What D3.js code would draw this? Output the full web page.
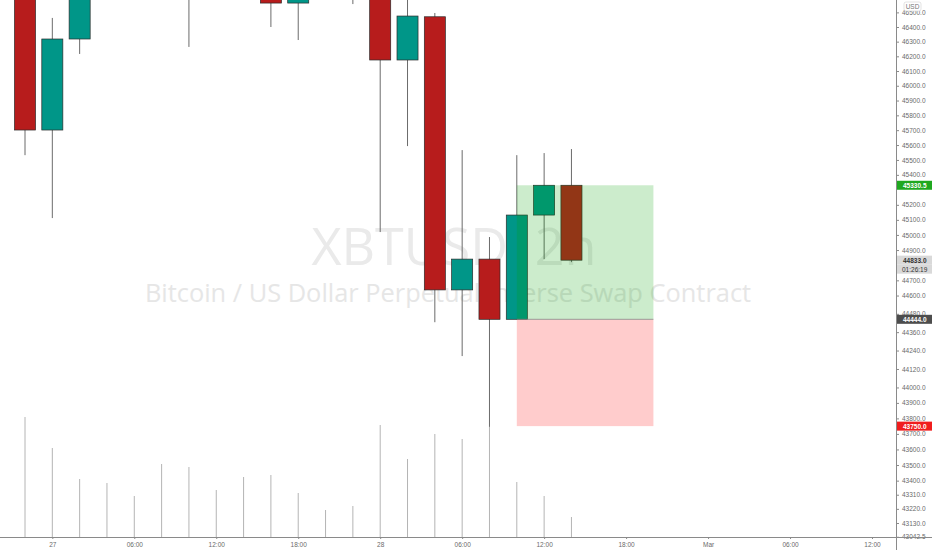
<!DOCTYPE html>
<html>
<head>
<meta charset="utf-8">
<script src="https://cdn.jsdelivr.net/npm/d3@7"></script>
<style>
  html, body { margin: 0; padding: 0; background: #fff; }
  svg { display: block; }
  .axis text { font-family: "Liberation Sans", Arial, sans-serif; font-size: 6.5px; fill: #6a6a6a; }
  .axis line { stroke: #8a8a8a; }
</style>
</head>
<body>
<div id="chart"></div>
<script>
// 2h candles, XBTUSD
var times = ["2021-02-26T22:00Z", "2021-02-27T00:00Z", "2021-02-27T02:00Z", "2021-02-27T04:00Z",
    "2021-02-27T06:00Z", "2021-02-27T08:00Z", "2021-02-27T10:00Z", "2021-02-27T12:00Z",
    "2021-02-27T14:00Z", "2021-02-27T16:00Z", "2021-02-27T18:00Z", "2021-02-27T20:00Z",
    "2021-02-27T22:00Z", "2021-02-28T00:00Z", "2021-02-28T02:00Z", "2021-02-28T04:00Z",
    "2021-02-28T06:00Z", "2021-02-28T08:00Z", "2021-02-28T10:00Z", "2021-02-28T12:00Z",
    "2021-02-28T14:00Z"];
var opens = [46900, 45701, 46318, 46850, 46980, 47250, 46900, 46850, 47150, 46980, 46564,
    46780, 46850, 46900, 46175, 46470, 44637, 44840, 44444, 45132, 45330.5];
var highs = [47100, 46462, 46950, 47200, 47350, 47500, 47100, 47300, 47400, 47050, 46900,
    47000, 47050, 47100, 46700, 46496, 45566, 44986, 45532, 45546, 45573];
var lows = [45532, 45112, 46216, 46650, 46700, 46680, 46264, 46620, 46640, 46400, 46311,
    46620, 46557, 45019, 45593, 44425, 44204, 43745, 44444, 44840, 44820];
var closes = [45701, 46318, 46850, 46980, 47250, 46900, 46850, 47150, 46980, 46564, 46780,
    46850, 46900, 46175, 46475, 44637, 44840, 44444, 45132, 45330.5, 44833];
var volumes = [120, 89, 58, 54, 41, 73, 70, 47, 60, 62, 44, 27, 31, 112, 78, 103, 98, 110, 55, 41, 20];

// long position tool
var posStart = "2021-02-28T10:00Z", posEnd = "2021-02-28T20:00Z";
var entryPrice = 44444, targetPrice = 45330.5, stopPrice = 43750;
var lastPrice = 44833, countdown = "01:26:19";

// labels left visible on the price scale (others sit under the tags)
var priceTicks = [46500, 46400, 46300, 46200, 46100, 46000, 45900, 45800, 45700, 45600, 45500,
    45400, 45200, 45100, 45000, 44900, 44700, 44600, 44480, 44360, 44240, 44120,
    44000, 43900, 43800, 43700, 43600, 43500, 43400, 43310, 43220, 43130, 43042.5];
var timeTicks = ["2021-02-27T00:00Z", "2021-02-27T06:00Z", "2021-02-27T12:00Z", "2021-02-27T18:00Z",
    "2021-02-28T00:00Z", "2021-02-28T06:00Z", "2021-02-28T12:00Z", "2021-02-28T18:00Z",
    "2021-03-01T00:00Z", "2021-03-01T06:00Z", "2021-03-01T12:00Z"];

(function () {
    var W = 932, H = 550,
        paneW = 896, paneH = 537;

    var svg = d3.select("#chart").append("svg")
        .attr("width", W).attr("height", H);

    var data = times.map(function (t, i) {
        return { t: new Date(t), o: opens[i], h: highs[i], l: lows[i], c: closes[i], v: volumes[i] };
    });

    var x = d3.scaleUtc()
        .domain([new Date("2021-02-26T22:00Z"), new Date("2021-03-01T12:00Z")])
        .range([25, 872]);
    var step = x(new Date("2021-02-27T00:00Z")) - x(new Date("2021-02-26T22:00Z"));
    var bodyW = step * 0.77;

    // price scale is logarithmic
    var y = d3.scaleLog().domain([43130, 46400]).range([523, 27]);
    var yv = d3.scaleLinear().domain([0, 150]).range([paneH, paneH - 150]);

    svg.append("clipPath").attr("id", "pane")
        .append("rect").attr("width", paneW).attr("height", paneH);
    var g = svg.append("g").attr("clip-path", "url(#pane)");

    // watermark
    g.append("text")
        .attr("x", 454).attr("y", 265)
        .attr("text-anchor", "middle")
        .style("font-family", "'Open Sans', sans-serif")
        .style("font-size", "52px")
        .style("fill", "#eaeaea")
        .text("XBTUSD, 2h");
    g.append("text")
        .attr("x", 448).attr("y", 302)
        .attr("text-anchor", "middle")
        .style("font-family", "'Open Sans', sans-serif")
        .style("font-size", "25.4px")
        .style("fill", "#e6e6e6")
        .text("Bitcoin / US Dollar Perpetual Inverse Swap Contract");

    // volume
    g.selectAll(".vol")
        .data(data)
        .enter()
        .append("line")
        .attr("x1", function (d) { return x(d.t); })
        .attr("x2", function (d) { return x(d.t); })
        .attr("y1", yv(0))
        .attr("y2", function (d) { return yv(d.v); })
        .attr("stroke", "#b4b4b4")
        .attr("stroke-width", 1);

    // wicks
    g.selectAll(".wick")
        .data(data)
        .enter()
        .append("line")
        .attr("x1", function (d) { return x(d.t); })
        .attr("x2", function (d) { return x(d.t); })
        .attr("y1", function (d) { return y(d.h); })
        .attr("y2", function (d) { return y(d.l); })
        .attr("stroke", "#6b6b6b")
        .attr("stroke-width", 1);

    // bodies
    g.selectAll(".body")
        .data(data)
        .enter()
        .append("rect")
        .attr("x", function (d) { return x(d.t) - bodyW / 2; })
        .attr("y", function (d) { return y(Math.max(d.o, d.c)); })
        .attr("width", bodyW)
        .attr("height", function (d) { return Math.max(1, y(Math.min(d.o, d.c)) - y(Math.max(d.o, d.c))); })
        .attr("fill", function (d) { return d.c >= d.o ? "#009688" : "#b71c1c"; })
        .attr("stroke", "#2b2b2b")
        .attr("stroke-width", 0.7);

    // position: profit and loss zones
    var px0 = x(new Date(posStart)), px1 = x(new Date(posEnd));
    g.append("rect")
        .attr("x", px0).attr("width", px1 - px0)
        .attr("y", y(targetPrice)).attr("height", y(entryPrice) - y(targetPrice))
        .attr("fill", "rgba(0,160,0,0.2)");
    g.append("rect")
        .attr("x", px0).attr("width", px1 - px0)
        .attr("y", y(entryPrice)).attr("height", y(stopPrice) - y(entryPrice))
        .attr("fill", "rgba(255,0,0,0.2)");
    g.append("line")
        .attr("x1", px0).attr("x2", px1)
        .attr("y1", y(entryPrice)).attr("y2", y(entryPrice))
        .attr("stroke", "#8a8a8a").attr("stroke-width", 0.8);

    // price axis
    var yAxis = svg.append("g")
        .attr("class", "axis")
        .attr("transform", "translate(" + paneW + ",0)")
        .call(d3.axisRight(y).tickValues(priceTicks).tickSize(3).tickPadding(3)
            .tickFormat(d3.format(".1f")));
    yAxis.select(".domain").remove();

    // time axis
    var fmt = function (d) {
        if (d.getUTCHours() === 0) {
            return d.getUTCDate() === 1 ? d3.utcFormat("%b")(d) : d3.utcFormat("%-d")(d);
        }
        return d3.utcFormat("%H:%M")(d);
    };
    var xAxis = svg.append("g")
        .attr("class", "axis")
        .attr("transform", "translate(0," + paneH + ")")
        .call(d3.axisBottom(x).tickValues(timeTicks.map(function (t) { return new Date(t); }))
            .tickSize(2).tickPadding(3).tickFormat(fmt));
    xAxis.select(".domain").remove();

    svg.append("line")
        .attr("x1", 0).attr("x2", W)
        .attr("y1", paneH + 0.5).attr("y2", paneH + 0.5)
        .attr("stroke", "#8a8a8a");
    svg.append("line")
        .attr("x1", paneW + 0.5).attr("x2", paneW + 0.5)
        .attr("y1", 0).attr("y2", H)
        .attr("stroke", "#8a8a8a");

    // USD label
    svg.append("rect")
        .attr("x", 904).attr("y", 2).attr("width", 17).attr("height", 9).attr("rx", 2)
        .attr("fill", "#fff").attr("stroke", "#d0d0d0").attr("stroke-width", 0.6);
    svg.append("text")
        .attr("x", 912.5).attr("y", 9)
        .attr("text-anchor", "middle")
        .style("font-family", "'Liberation Sans', Arial, sans-serif")
        .style("font-size", "6.5px").style("fill", "#777")
        .text("USD");

    // price tags
    var tags = [
        { p: targetPrice, bg: "#1fa81f", fg: "#fff" },
        { p: lastPrice, bg: "#d9d9d9", fg: "#333" },
        { p: entryPrice, bg: "#4d4d4d", fg: "#fff" },
        { p: stopPrice, bg: "#f01d1d", fg: "#fff" }
    ];
    var tg = svg.selectAll(".tag")
        .data(tags)
        .enter()
        .append("g")
        .attr("transform", function (d) { return "translate(" + (paneW + 1) + "," + y(d.p) + ")"; });
    tg.append("rect")
        .attr("x", 0).attr("y", -4.5).attr("width", W - paneW - 1).attr("height", 9)
        .attr("fill", function (d) { return d.bg; });
    tg.append("text")
        .attr("x", 6).attr("y", 2.4)
        .style("font-family", "'Liberation Sans', Arial, sans-serif")
        .style("font-size", "6.5px").style("font-weight", "bold")
        .style("fill", function (d) { return d.fg; })
        .text(function (d) { return d3.format(".1f")(d.p); });

    // bar countdown under the last price
    var cg = svg.append("g")
        .attr("transform", "translate(" + (paneW + 1) + "," + (y(lastPrice) + 9) + ")");
    cg.append("rect")
        .attr("x", 0).attr("y", -4.5).attr("width", W - paneW - 1).attr("height", 9)
        .attr("fill", "#d9d9d9");
    cg.append("text")
        .attr("x", 5).attr("y", 2.4)
        .style("font-family", "'Liberation Sans', Arial, sans-serif")
        .style("font-size", "6.5px")
        .style("fill", "#333")
        .text(countdown);
})();
</script>
</body>
</html>
